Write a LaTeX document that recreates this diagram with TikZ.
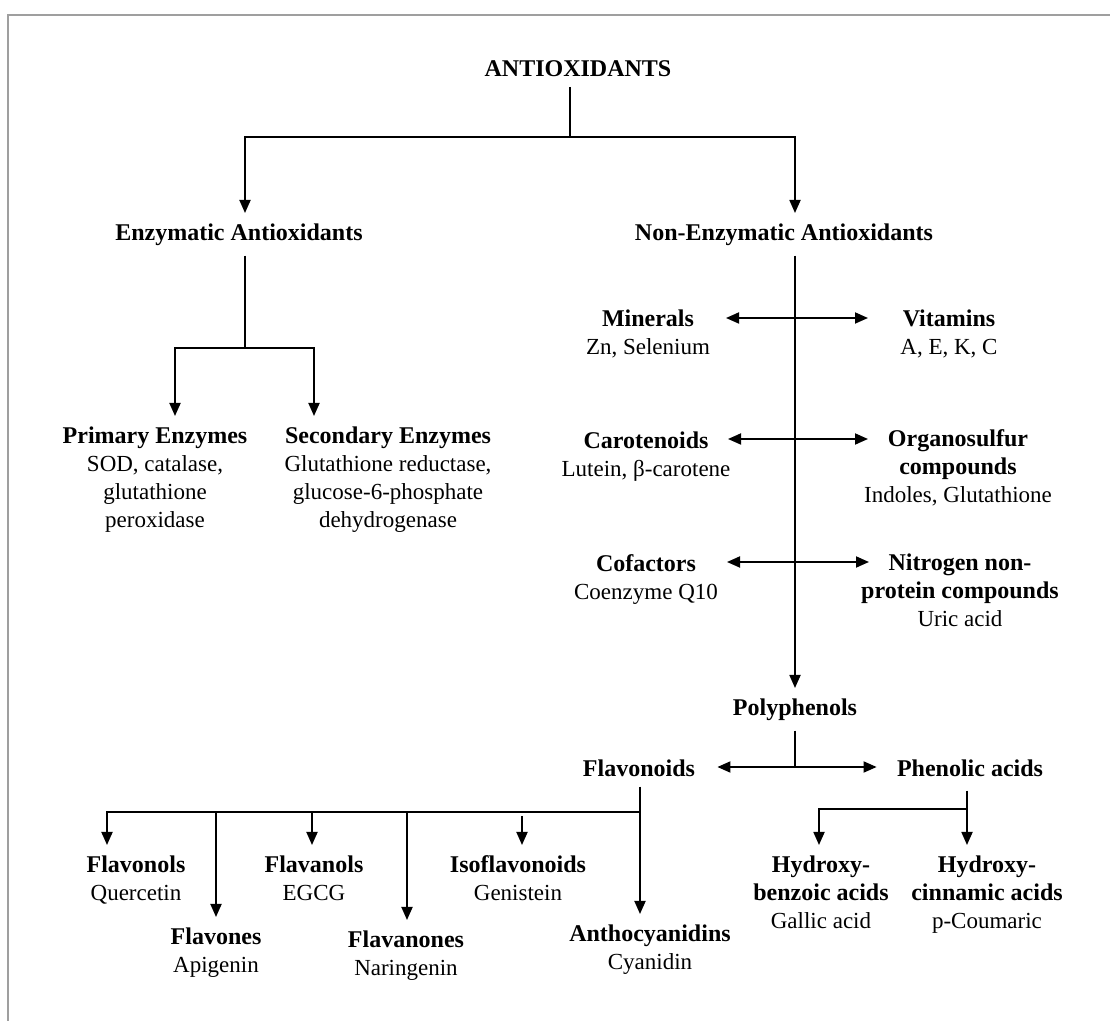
\documentclass[tikz,border=0pt]{standalone}
\usepackage{fontspec}
\setmainfont{Liberation Serif}
\usetikzlibrary{arrows.meta}
\newcommand{\hd}[1]{{\fontsize{12}{14}\selectfont\bfseries #1}}

\begin{document}
\begin{tikzpicture}[x=0.5pt, y=-0.5pt,
    item/.style={anchor=north, align=center, inner sep=5pt, font=\fontsize{11.5}{14}\selectfont},
    link/.style={line width=0.9pt},
    arr/.style={-{Triangle[length=6.5pt, width=5.5pt]}, line width=0.9pt},
    frame/.style={gray!75, line width=1pt}
]
\useasboundingbox (0,0) rectangle (1110,1021);
% Frame, cut at the right and bottom
\draw[frame] (8,1021) |- (1110,15);

% Root and the two main classes
\node[item] (anti) at (578,50) {\hd{ANTIOXIDANTS}};
\node[item] (enz) at (239,213) {\hd{Enzymatic Antioxidants}};
\node[item] (nonenz) at (784,213) {\hd{Non-Enzymatic Antioxidants}};

% Enzymes
\node[item] (primary) at (155,416) {\hd{Primary Enzymes}\\SOD, catalase,\\glutathione\\peroxidase};
\node[item] (secondary) at (388,416) {\hd{Secondary Enzymes}\\Glutathione reductase,\\glucose-6-phosphate\\dehydrogenase};

% Non-enzymatic groups
\node[item] (minerals) at (648,299) {\hd{Minerals}\\Zn, Selenium};
\node[item] (vitamins) at (949,299) {\hd{Vitamins}\\A, E, K, C};
\node[item] (carot) at (646,421) {\hd{Carotenoids}\\Lutein, β-carotene};
\node[item] (organo) at (958,419) {\hd{Organosulfur}\\\hd{compounds}\\Indoles, Glutathione};
\node[item] (cofact) at (646,544) {\hd{Cofactors}\\Coenzyme Q10};
\node[item] (nitro) at (960,543) {\hd{Nitrogen non-}\\\hd{protein compounds}\\Uric acid};
\node[item] (poly) at (795,688) {\hd{Polyphenols}};

% Polyphenol classes
\node[item] (flavonoids) at (639,749) {\hd{Flavonoids}};
\node[item] (phenolic) at (970,749) {\hd{Phenolic acids}};
\node[item] (flavonols) at (136,845) {\hd{Flavonols}\\Quercetin};
\node[item] (flavones) at (216,917) {\hd{Flavones}\\Apigenin};
\node[item] (flavanols) at (314,845) {\hd{Flavanols}\\EGCG};
\node[item] (flavanones) at (406,920) {\hd{Flavanones}\\Naringenin};
\node[item] (isofl) at (518,845) {\hd{Isoflavonoids}\\Genistein};
\node[item] (antho) at (650,914) {\hd{Anthocyanidins}\\Cyanidin};
\node[item] (hbenz) at (821,845) {\hd{Hydroxy-}\\\hd{benzoic acids}\\Gallic acid};
\node[item] (hcinn) at (987,845) {\hd{Hydroxy-}\\\hd{cinnamic acids}\\p-Coumaric};

% Root split
\coordinate (split) at (570,137);
\draw[link] (anti.south -| split) -- (split);
\draw[arr] (split) -| ([xshift=3pt]enz.north);
\draw[arr] (split) -| ([xshift=5.5pt]nonenz.north);

% Enzymatic branch
\coordinate (esplit) at (245,348);
\draw[link] (enz.south -| esplit) -- (esplit);
\draw[arr] (esplit) -| ([xshift=10pt]primary.north);
\draw[arr] (esplit) -| ([xshift=-37pt]secondary.north);

% Non-enzymatic trunk with side arrows
\draw[arr] (nonenz.south -| poly.north) -- (poly.north);
\coordinate (row1) at (795,318);
\coordinate (row1l) at (726,318);
\coordinate (row1r) at (868,318);
\coordinate (row2) at (795,439);
\coordinate (row2l) at (728,439);
\coordinate (row2r) at (868,439);
\coordinate (row3) at (795,562);
\coordinate (row3l) at (727,562);
\coordinate (row3r) at (869,562);
\foreach \r in {row1,row2,row3} {
  \draw[arr] (\r) -- (\r l);
  \draw[arr] (\r) -- (\r r);
}

% Polyphenols split
\coordinate (psplit) at (795,767);
\draw[link] (poly) -- (psplit);
\draw[arr, shorten >=6pt] (psplit) -- (psplit -| flavonoids.east);
\draw[arr, shorten >=5pt] (psplit) -- (psplit -| phenolic.west);

% Flavonoids
\coordinate (fsplit) at (640,812);
\draw[link] (flavonoids.south -| fsplit) -- (fsplit);
\draw[arr] (fsplit) -- (fsplit |- antho.north);
\draw[arr] (fsplit) -| ([xshift=-14.5pt]flavonols.north);
\draw[arr] (flavones.north |- fsplit) -- (flavones.north);
\draw[arr] ([xshift=-1pt]flavanols.north |- fsplit) -- ([xshift=-1pt]flavanols.north);
\draw[arr] ([xshift=0.5pt]flavanones.north |- fsplit) -- ([xshift=0.5pt]flavanones.north);
\draw[arr, shorten <=2pt] ([xshift=2pt]isofl.north |- fsplit) -- ([xshift=2pt]isofl.north);

% Phenolic acids
\coordinate (phsplit) at (967,809);
\draw[link, shorten <=2pt] (phenolic.south -| phsplit) -- (phsplit);
\draw[arr] (phsplit) -- (phsplit |- hcinn.north);
\draw[arr] (phsplit) -| ([xshift=-1pt]hbenz.north);
\end{tikzpicture}
\end{document}
